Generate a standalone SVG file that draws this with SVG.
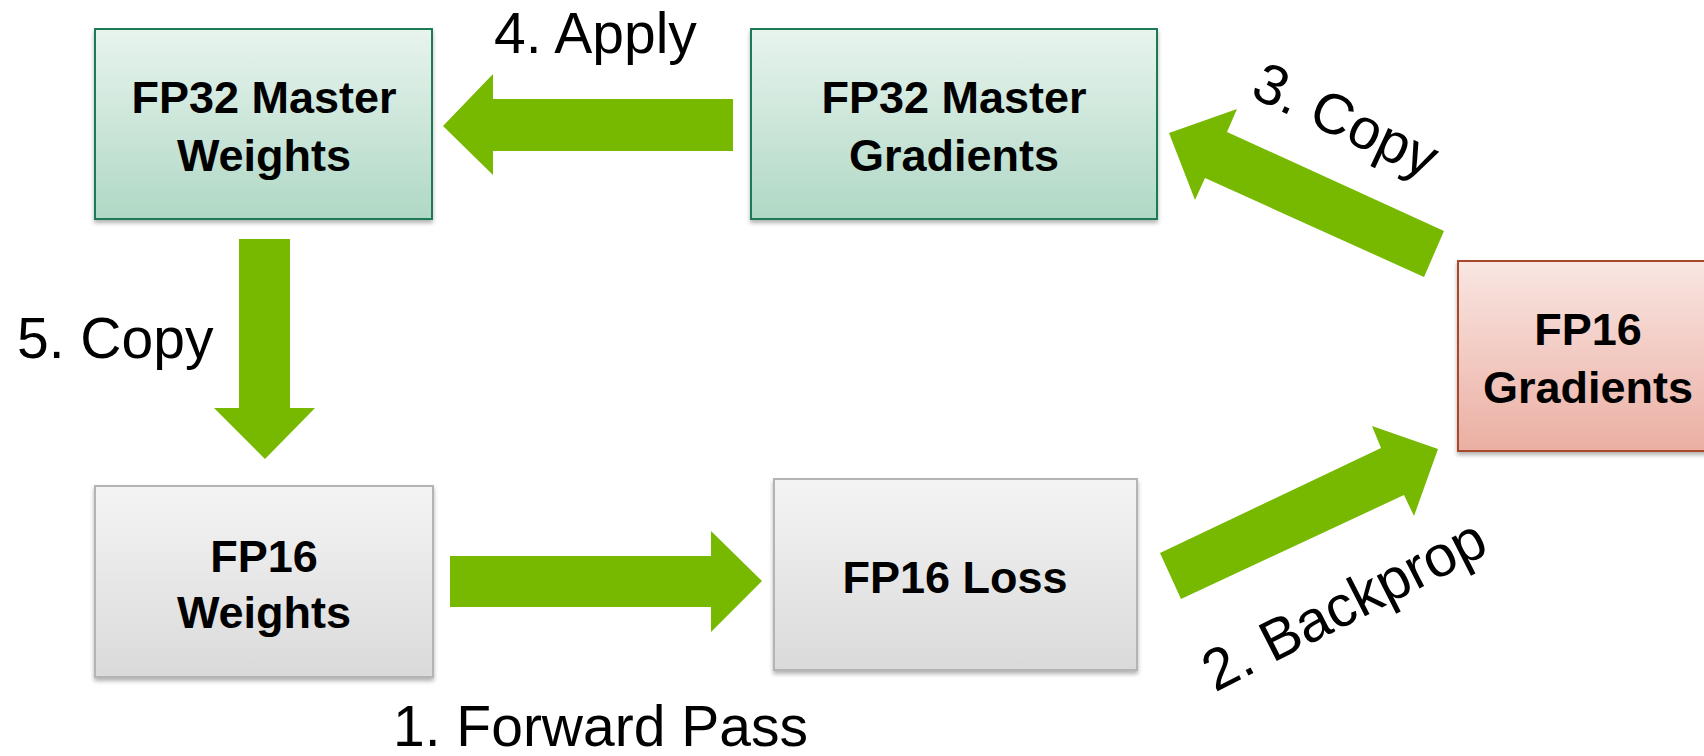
<svg xmlns="http://www.w3.org/2000/svg" width="1704" height="756" viewBox="0 0 1704 756">
<style>
.box-text{font-family:"Liberation Sans",Arial,sans-serif;font-weight:bold;font-size:45px;fill:#000;text-anchor:middle}
.lbl{font-family:"Liberation Sans",Arial,sans-serif;font-size:57px;fill:#000}
.arrow{fill:#76b900}
</style>
<defs>
<linearGradient id="gGreen" x1="0" y1="0" x2="0" y2="1"><stop offset="0" stop-color="#e8f4ee"/><stop offset="1" stop-color="#b0d8c5"/></linearGradient>
<linearGradient id="gGray" x1="0" y1="0" x2="0" y2="1"><stop offset="0" stop-color="#f4f4f4"/><stop offset="1" stop-color="#dadada"/></linearGradient>
<linearGradient id="gRed" x1="0" y1="0" x2="0" y2="1"><stop offset="0" stop-color="#f9e6e2"/><stop offset="1" stop-color="#ebafa3"/></linearGradient>
<filter id="shadow" x="-10%" y="-10%" width="120%" height="130%"><feDropShadow dx="0" dy="3" stdDeviation="2" flood-color="#000" flood-opacity="0.3"/></filter>
</defs>
<rect width="1704" height="756" fill="#fff"/>
<g id="connectors">
<polygon class="arrow" points="450,556 711,556 711,531 762,581 711,632 711,607 450,607"/>
<polygon class="arrow" points="733,99 493,99 493,74 443,126 493,175 493,151 733,151"/>
<polygon class="arrow" points="239,239 290,239 290,408 315,408 265,459 214,408 239,408"/>
<polygon class="arrow" points="1444,231 1227,132 1237,109 1169,133 1195,200 1205,178 1424,277"/>
<polygon class="arrow" points="1160,553 1381,448 1372,426 1438,449 1414,516 1404,495 1181,599"/>
<text class="lbl" x="494" y="53">4. Apply</text>
<text class="lbl" x="17" y="358">5. Copy</text>
<text class="lbl" x="393" y="746">1. Forward Pass</text>
<text class="lbl" text-anchor="middle" transform="translate(1344,124) rotate(25)" x="0" y="15">3. Copy</text>
<text class="lbl" text-anchor="middle" transform="translate(1346,609) rotate(-27)" x="0" y="15" style="font-size:58px">2. Backprop</text>
</g>
<g id="node-fp32-master-weights">
<rect x="95" y="29" width="337" height="190" fill="url(#gGreen)" stroke="#1c7a55" stroke-width="2" filter="url(#shadow)"/>
<text class="box-text" x="264" y="113">FP32 Master</text>
<text class="box-text" x="264" y="171">Weights</text>
</g>
<g id="node-fp32-master-gradients">
<rect x="751" y="29" width="406" height="190" fill="url(#gGreen)" stroke="#1c7a55" stroke-width="2" filter="url(#shadow)"/>
<text class="box-text" x="954" y="113">FP32 Master</text>
<text class="box-text" x="954" y="171">Gradients</text>
</g>
<g id="node-fp16-gradients">
<rect x="1458" y="261" width="262" height="190" fill="url(#gRed)" stroke="#a84a2a" stroke-width="2" filter="url(#shadow)"/>
<text class="box-text" x="1588" y="345">FP16</text>
<text class="box-text" x="1588" y="403">Gradients</text>
</g>
<g id="node-fp16-weights">
<rect x="95" y="486" width="338" height="191" fill="url(#gGray)" stroke="#b4b4b4" stroke-width="2" filter="url(#shadow)"/>
<text class="box-text" x="264" y="572">FP16</text>
<text class="box-text" x="264" y="628">Weights</text>
</g>
<g id="node-fp16-loss">
<rect x="774" y="479" width="363" height="191" fill="url(#gGray)" stroke="#b4b4b4" stroke-width="2" filter="url(#shadow)"/>
<text class="box-text" x="955" y="593">FP16 Loss</text>
</g>
</svg>
